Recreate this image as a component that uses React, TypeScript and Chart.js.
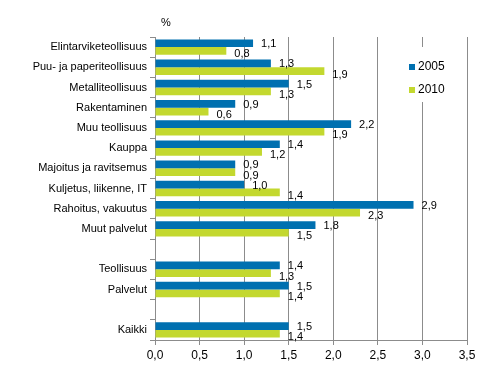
import React, { useEffect, useRef } from "react";
import { Chart, registerables } from "chart.js";
Chart.register(...registerables);

const categories = [
  "Elintarviketeollisuus",
  "Puu- ja paperiteollisuus",
  "Metalliteollisuus",
  "Rakentaminen",
  "Muu teollisuus",
  "Kauppa",
  "Majoitus ja ravitsemus",
  "Kuljetus, liikenne, IT",
  "Rahoitus, vakuutus",
  "Muut palvelut",
  "",
  "Teollisuus",
  "Palvelut",
  " ",
  "Kaikki",
];
const series2005 = [1.1, 1.3, 1.5, 0.9, 2.2, 1.4, 0.9, 1.0, 2.9, 1.8, null, 1.4, 1.5, null, 1.5];
const series2010 = [0.8, 1.9, 1.3, 0.6, 1.9, 1.2, 0.9, 1.4, 2.3, 1.5, null, 1.3, 1.4, null, 1.4];
const seriesNames = ["2005", "2010"];
const xTicks = [0, 0.5, 1, 1.5, 2, 2.5, 3, 3.5];

const BLUE = "#0070b0";
const GREEN = "#c3d82f";
const FONT = "'Liberation Sans', Arial, sans-serif";
const fmt = (v: number) => v.toFixed(1).replace(".", ",");

const labelPlugin = {
  id: "barLabels",
  afterDatasetsDraw(chart: any) {
    const ctx = chart.ctx;
    ctx.save();
    ctx.font = `11px ${FONT}`;
    ctx.fillStyle = "#000";
    ctx.textAlign = "left";
    ctx.textBaseline = "middle";
    chart.data.datasets.forEach((ds: any, di: number) => {
      const meta = chart.getDatasetMeta(di);
      meta.data.forEach((bar: any, i: number) => {
        const v = ds.data[i];
        if (v == null) return;
        const dy = di === 0 ? 1 : 3.5;
        ctx.fillText(fmt(v), bar.x + 8, bar.y + dy);
      });
    });
    // % label
    ctx.font = `11px ${FONT}`;
    ctx.fillText("%", 161, 23);
    // legend
    ctx.fillStyle = "#fff";
    ctx.fillRect(382, 47, 82, 55);
    const items = [
      { t: seriesNames[0], c: BLUE, y: 67 },
      { t: seriesNames[1], c: GREEN, y: 90 },
    ];
    ctx.font = `12px ${FONT}`;
    items.forEach((it) => {
      ctx.fillStyle = it.c;
      ctx.fillRect(409, it.y - 3, 6, 6);
      ctx.fillStyle = "#000";
      ctx.fillText(it.t, 418, it.y);
    });
    ctx.restore();
  },
};

export default function App() {
  const ref = useRef<HTMLCanvasElement>(null);
  useEffect(() => {
    const chart = new Chart(ref.current!, {
      type: "bar",
      data: {
        labels: categories,
        datasets: [
          { label: seriesNames[0], data: series2005, backgroundColor: BLUE, categoryPercentage: 0.76, barPercentage: 1 },
          { label: seriesNames[1], data: series2010, backgroundColor: GREEN, categoryPercentage: 0.76, barPercentage: 1 },
        ],
      },
      options: {
        indexAxis: "y",
        animation: false,
        responsive: false,
        maintainAspectRatio: false,
        layout: { padding: { left: 0, right: 24, top: 37, bottom: 0 } },
        plugins: { legend: { display: false }, tooltip: { enabled: false } },
        scales: {
          x: {
            min: 0,
            max: 3.5,
            afterBuildTicks: (s: any) => {
              s.ticks = xTicks.map((v) => ({ value: v }));
            },
            afterFit: (s: any) => {
              s.height = 35;
            },
            grid: { color: "#8c8c8c", lineWidth: 1, tickLength: 5 },
            border: { color: "#8c8c8c" },
            ticks: {
              color: "#000",
              font: { family: FONT, size: 12 },
              padding: 3,
              callback: (v: any) => fmt(Number(v)),
            },
          },
          y: {
            afterFit: (s: any) => {
              s.width = 155;
            },
            grid: { offset: true, drawOnChartArea: false, color: "#8c8c8c", tickLength: 5 },
            border: { color: "#8c8c8c" },
            ticks: {
              color: "#000",
              font: { family: FONT, size: 11 },
              padding: 3,
              autoSkip: false,
            },
          },
        },
      },
      plugins: [labelPlugin],
    });
    return () => chart.destroy();
  }, []);
  return (
    <div style={{ position: "fixed", left: 0, top: 0, width: 491, height: 375, background: "#fff" }}>
      <canvas ref={ref} width={491} height={375} style={{ width: 491, height: 375 }} />
    </div>
  );
}
